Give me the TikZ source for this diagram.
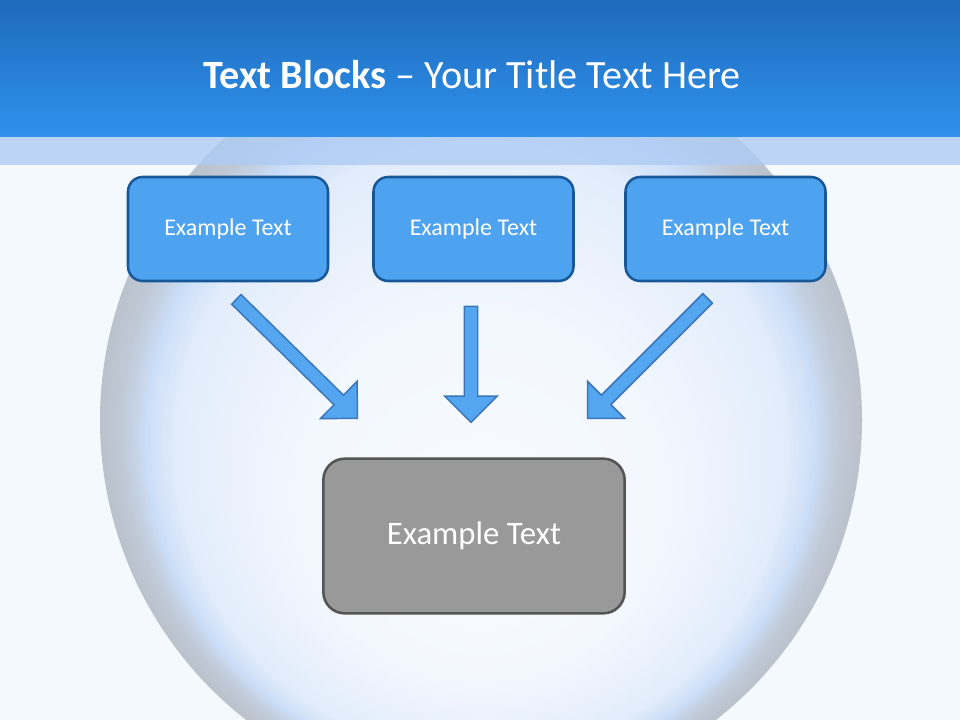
\documentclass[tikz,border=0pt]{standalone}
\usepackage{fontspec}
\setmainfont{Carlito}
\usetikzlibrary{shapes.arrows, positioning}

\definecolor{pagebg}{RGB}{244,249,253}
\definecolor{headtop}{RGB}{30,106,188}
\definecolor{headbot}{RGB}{47,146,236}
\definecolor{bandblue}{RGB}{174,204,245}
\definecolor{boxfill}{RGB}{78,163,240}
\definecolor{boxline}{RGB}{24,88,152}
\definecolor{arrowfill}{RGB}{84,166,240}
\definecolor{arrowline}{RGB}{58,118,184}
\definecolor{greyfill}{RGB}{153,153,153}
\definecolor{greyline}{RGB}{84,84,84}
\definecolor{ballout}{RGB}{186,194,204}
\definecolor{ballrim}{RGB}{192,201,214}
\definecolor{ballgrey}{RGB}{198,212,232}
\definecolor{ballblue}{RGB}{203,222,248}
\definecolor{ballmid}{RGB}{226,236,251}
\definecolor{ballsoft}{RGB}{243,248,254}
\definecolor{ballcore}{RGB}{247,250,255}

% one band of the glass ball: outer radius, inner radius, outer colour, inner colour, steps
\newcommand{\ballband}[5]{%
  \foreach \k in {0,...,#5}{%
    \pgfmathsetmacro\rad{#1-(#1-#2)*\k/#5}%
    \pgfmathtruncatemacro\mix{100*\k/#5}%
    \pgfmathsetmacro\cy{420+(381-\rad)*0.4}%
    \fill[#4!\mix!#3] (481,\cy) circle [radius=\rad*0.75pt];
  }}

\begin{document}
\begin{tikzpicture}[x=0.75pt,y=-0.75pt]

        % Define block styles
        \tikzstyle{topbox} = [rectangle, draw=boxline, fill=boxfill, line width=1.9pt, rounded corners=11pt, minimum width=150pt, minimum height=78pt, text=white, font=\fontsize{18}{21}\selectfont]
        \tikzstyle{resultbox} = [rectangle, draw=greyline, fill=greyfill, line width=1.9pt, rounded corners=16pt, minimum width=226pt, minimum height=116pt, text=white, font=\fontsize{24.6}{29}\selectfont]
        \tikzstyle{blockarrow} = [single arrow, draw=arrowline, fill=arrowfill, line width=1.1pt, inner sep=4.5pt, single arrow head extend=14.6pt, single arrow tip angle=90, single arrow head indent=0pt]

        % Background
        \useasboundingbox (0,0) rectangle (960,720);
        \fill[pagebg] (0,0) rectangle (960,720);
        \ballband{381}{361}{ballout}{ballrim}{10}
        \ballband{361}{346}{ballrim}{ballgrey}{8}
        \ballband{346}{336}{ballgrey}{ballblue}{6}
        \ballband{336}{306}{ballblue}{ballmid}{15}
        \ballband{306}{180}{ballmid}{ballsoft}{30}
        \ballband{180}{60}{ballsoft}{ballcore}{6}
        \shade[top color=headtop, bottom color=headbot] (0,0) rectangle (960,137);
        \fill[bandblue, opacity=0.8] (0,137) rectangle (960,165);

        % Title
        \node (title) at (472,75) [text=white, font=\fontsize{30.1}{35}\selectfont] {\textbf{Text Blocks} – Your Title Text Here};

        % Components
        \node (middle) at (473.5,229) [topbox] {Example Text};
        \node (left) at (228,229) [topbox] {Example Text};
        \node (right) at (725.5,229) [topbox] {Example Text};
        \node (result) at (474,536) [resultbox] {Example Text};

        % Arrows
        \node (leftarrow) at (294.5,356.5) [blockarrow, minimum height=127.3pt, rotate=-44.5] {};
        \node (middlearrow) at (471,361) [blockarrow, minimum height=87pt, rotate=-90] {};
        \node (rightarrow) at (650,356) [blockarrow, minimum height=127.3pt, rotate=-135] {};

      \end{tikzpicture}
\end{document}
